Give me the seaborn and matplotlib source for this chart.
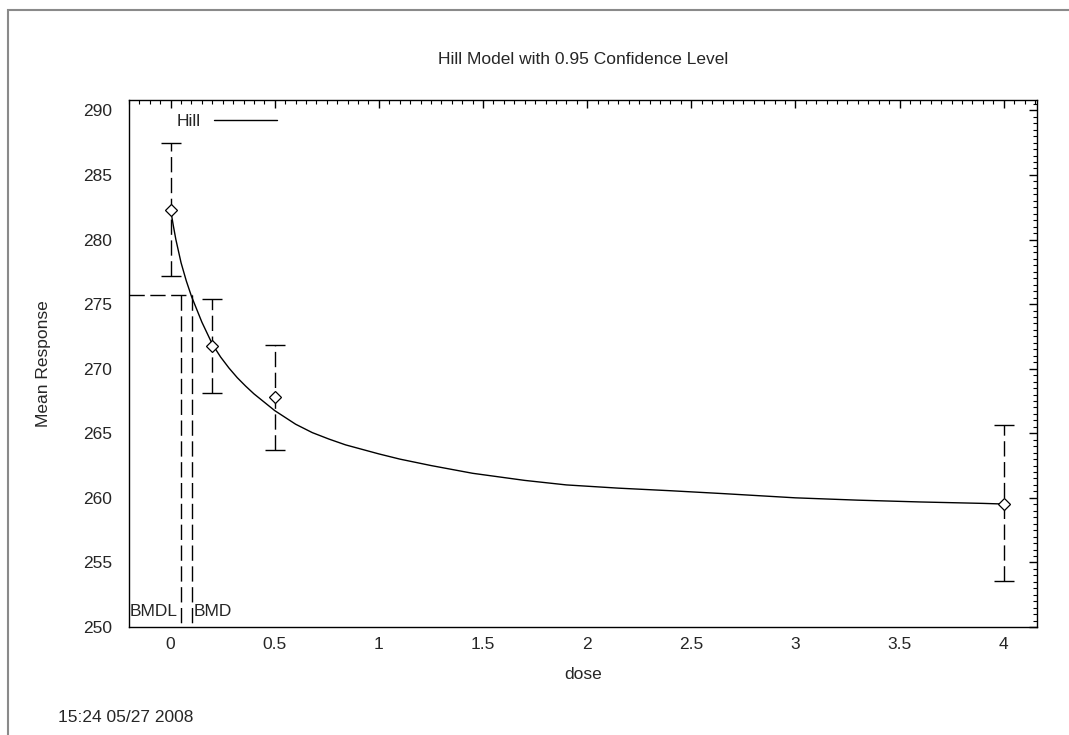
import numpy as np
import pandas as pd
import matplotlib
matplotlib.use("Agg")
import matplotlib.pyplot as plt
import seaborn as sns
from matplotlib.patches import Rectangle
from matplotlib.ticker import MultipleLocator

# observed group means and 95% limits
dose = [0, 0.2, 0.5, 4]
mean_resp = [282.3, 271.75, 267.77, 259.52]
lower = [277.16, 268.13, 263.7, 253.56]
upper = [287.47, 275.38, 271.82, 265.63]

# fitted Hill curve
curve_dose = [0, 0.0125, 0.025, 0.05, 0.075, 0.1, 0.15, 0.2, 0.24, 0.28, 0.32,
              0.36, 0.4, 0.45, 0.5, 0.6, 0.68, 0.76, 0.84, 0.92, 1.0, 1.1, 1.25,
              1.35, 1.45, 1.7, 1.9, 2.15, 2.4, 2.65, 3.0, 3.3, 3.6, 3.9, 4.0]
curve_resp = [282.3, 281.1, 280.0, 278.2, 276.8, 275.6, 273.6, 271.9, 270.9,
              270.05, 269.3, 268.65, 268.05, 267.4, 266.75, 265.7, 265.05,
              264.55, 264.1, 263.75, 263.4, 263.0, 262.5, 262.2, 261.9, 261.35,
              261.0, 260.75, 260.55, 260.33, 260.0, 259.82, 259.68, 259.57, 259.52]

bmr_level = 275.7
bmdl = 0.048
bmd = 0.104

x_ticks = [0, 0.5, 1, 1.5, 2, 2.5, 3, 3.5, 4]
x_labels = ["0", "0.5", "1", "1.5", "2", "2.5", "3", "3.5", "4"]
y_ticks = [250, 255, 260, 265, 270, 275, 280, 285, 290]

sns.set_style("white")
plt.rcParams["font.family"] = ["Liberation Sans", "DejaVu Sans"]
plt.rcParams["font.size"] = 12.5

fig = plt.figure(figsize=(10.69, 7.35), dpi=100)
ax = fig.add_axes([129 / 1069, 1 - 627 / 735, (1037 - 129) / 1069, (627 - 100) / 735])

# outer frame of the page
fig.patches.append(Rectangle((8 / 1069, -0.1), 1.2, 1 - 10 / 735 + 0.1,
                             transform=fig.transFigure, fill=False,
                             edgecolor="#8a8a8a", linewidth=1.5))

curve = pd.DataFrame({"dose": curve_dose, "resp": curve_resp})
sns.lineplot(data=curve, x="dose", y="resp", ax=ax, color="black",
             linewidth=1, label="Hill", sort=False)

dash = (11, 4)
eb = ax.errorbar(dose, mean_resp,
                 yerr=[np.subtract(mean_resp, lower), np.subtract(upper, mean_resp)],
                 fmt="none", ecolor="black", elinewidth=1, capsize=7.2, capthick=1)
for lc in eb[2]:
    lc.set_linestyle((0, dash))
ax.plot(dose, mean_resp, linestyle="none", marker="D", markersize=6.5,
        markerfacecolor="white", markeredgecolor="black", markeredgewidth=0.9)

# BMD / BMDL markers
ax.plot([-0.2, bmd], [bmr_level, bmr_level], color="black", lw=1, dashes=dash)
ax.plot([bmdl, bmdl], [bmr_level, 250], color="black", lw=1, dashes=dash)
ax.plot([bmd, bmd], [bmr_level, 250], color="black", lw=1, dashes=dash)
ax.text(-0.195, 250.6, "BMDL", fontsize=12.5, ha="left", va="bottom")
ax.text(bmd + 0.005, 250.6, "BMD", fontsize=12.5, ha="left", va="bottom")

ax.set_xlim(-0.2, 4.16)
ax.set_ylim(250, 290.8)
ax.set_xticks(x_ticks)
ax.set_xticklabels(x_labels)
ax.set_yticks(y_ticks)
ax.xaxis.set_minor_locator(MultipleLocator(0.05))
ax.yaxis.set_minor_locator(MultipleLocator(0.5))
ax.tick_params(which="both", direction="in", top=True, right=True, color="black")
ax.tick_params(which="major", length=6, width=1, labelsize=12.5)
ax.tick_params(which="minor", length=3, width=0.8)
ax.tick_params(axis="x", which="major", pad=7)
ax.tick_params(axis="y", which="major", pad=12)
for s in ax.spines.values():
    s.set_color("black")
    s.set_linewidth(1)

ax.set_xlabel("dose", fontsize=12.5, labelpad=11)
ax.set_ylabel("Mean Response", fontsize=12.5, labelpad=23)
ax.set_title("Hill Model with 0.95 Confidence Level", fontsize=12.5, pad=26)

ax.legend(loc="upper left", bbox_to_anchor=(0.035, 1.003), frameon=False,
          markerfirst=False, handlelength=3.6, fontsize=12.5)

fig.text(58 / 1069, 1 - 717 / 735, "15:24 05/27 2008", fontsize=12.5,
         ha="left", va="center")

fig.savefig("out.png", dpi=100)
